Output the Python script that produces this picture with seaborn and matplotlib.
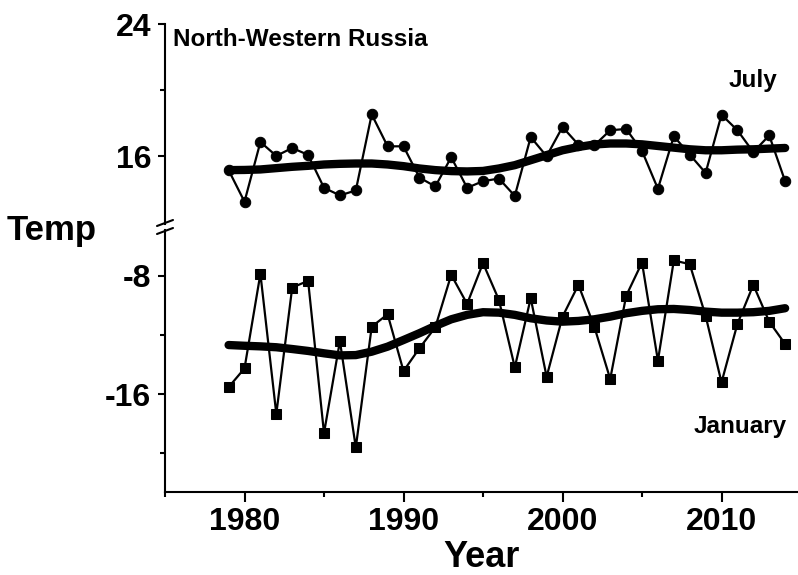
import matplotlib
matplotlib.use("Agg")
import matplotlib.pyplot as plt
from matplotlib.lines import Line2D
from matplotlib.ticker import MultipleLocator, FixedLocator
import seaborn as sns
import pandas as pd

years = list(range(1979, 2015))

july_temp = [15.16, 13.25, 16.86, 16.02, 16.50, 16.08, 14.09, 13.63, 13.93, 18.53,
             16.60, 16.60, 14.71, 14.17, 15.94, 14.09, 14.49, 14.65, 13.60, 17.16,
             16.00, 17.77, 16.70, 16.66, 17.57, 17.65, 16.32, 14.03, 17.21, 16.10,
             14.99, 18.51, 17.57, 16.25, 17.26, 14.49]

july_smooth = [15.16, 15.17, 15.20, 15.28, 15.36, 15.42, 15.50, 15.54, 15.56, 15.56,
               15.50, 15.40, 15.26, 15.16, 15.10, 15.08, 15.11, 15.26, 15.46, 15.76,
               16.06, 16.36, 16.56, 16.71, 16.77, 16.77, 16.72, 16.62, 16.52, 16.42,
               16.36, 16.36, 16.40, 16.42, 16.46, 16.50]

jan_temp = [-15.53, -14.26, -7.86, -17.34, -8.79, -8.34, -18.64, -12.41, -19.61, -11.44,
            -10.60, -14.44, -12.90, -11.48, -7.93, -9.90, -7.14, -9.63, -14.19, -9.51,
            -14.83, -10.76, -8.61, -11.44, -14.98, -9.36, -7.10, -13.74, -6.96, -7.21,
            -10.71, -15.21, -11.25, -8.61, -11.10, -12.61]

jan_smooth = [-12.68, -12.73, -12.77, -12.83, -12.95, -13.08, -13.24, -13.38, -13.36, -13.13,
              -12.79, -12.34, -11.88, -11.39, -10.94, -10.64, -10.46, -10.49, -10.64, -10.87,
              -11.02, -11.10, -11.05, -10.94, -10.76, -10.53, -10.37, -10.26, -10.24, -10.31,
              -10.42, -10.49, -10.49, -10.46, -10.37, -10.19]

x_ticks = [1980, 1990, 2000, 2010]
top_yticks = [16, 24]
top_minor = [20]
bot_yticks = [-16, -8]
bot_minor = [-20, -12]

df = pd.DataFrame({"Year": years, "July": july_temp, "JulySmooth": july_smooth,
                   "January": jan_temp, "JanSmooth": jan_smooth})

sns.set_style("ticks")
plt.rcParams["font.family"] = ["Liberation Sans", "DejaVu Sans"]
plt.rcParams["font.weight"] = "bold"
plt.rcParams["axes.unicode_minus"] = False
for key in ("text.color", "axes.labelcolor", "xtick.color", "ytick.color",
            "axes.edgecolor", "xtick.labelcolor", "ytick.labelcolor"):
    plt.rcParams[key] = "black"

W, H = 798, 575
fig = plt.figure(figsize=(W / 100, H / 100), dpi=100)
left = 165 / W
width = 1 - left
ax_top = fig.add_axes([left, 1 - 224 / H, width, (224 - 24) / H])
ax_bot = fig.add_axes([left, 1 - 491.7 / H, width, (491.7 - 230) / H])

thin = 1.6
thick = 6.0
sns.lineplot(data=df, x="Year", y="July", ax=ax_top, color="black", lw=thin,
             marker="o", markersize=7.5, markeredgecolor="black", zorder=3)
sns.lineplot(data=df, x="Year", y="JulySmooth", ax=ax_top, color="black", lw=thick,
             solid_capstyle="round", zorder=4)
sns.lineplot(data=df, x="Year", y="January", ax=ax_bot, color="black", lw=thin,
             marker="s", markersize=6.5, markeredgecolor="black", zorder=3)
sns.lineplot(data=df, x="Year", y="JanSmooth", ax=ax_bot, color="black", lw=thick,
             solid_capstyle="round", zorder=4)

for ax in (ax_top, ax_bot):
    ax.set_xlim(1975, 2014.81)
    ax.set_xlabel("")
    ax.set_ylabel("")
    for s in ("top", "right"):
        ax.spines[s].set_visible(False)
    ax.spines["left"].set_linewidth(1.5)
    ax.spines["bottom"].set_linewidth(1.5)
    ax.spines["left"].set_color("black")
    ax.spines["bottom"].set_color("black")
    ax.patch.set_alpha(0)

ax_top.set_ylim(11.9, 24)
ax_top.set_yticks(top_yticks)
ax_top.yaxis.set_minor_locator(FixedLocator(top_minor))
ax_top.spines["bottom"].set_visible(False)
ax_top.set_xticks([])
ax_top.tick_params(axis="x", which="both", bottom=False, labelbottom=False)

ax_bot.set_ylim(-22.6, -4.9)
ax_bot.set_yticks(bot_yticks)
ax_bot.yaxis.set_minor_locator(FixedLocator(bot_minor))
ax_bot.set_xticks(x_ticks)
ax_bot.xaxis.set_minor_locator(MultipleLocator(5))

for ax in (ax_top, ax_bot):
    ax.tick_params(axis="y", which="major", direction="out", length=5, width=1.5,
                   labelsize=23, pad=5, color="black", labelcolor="black")
    ax.tick_params(axis="y", which="minor", direction="out", length=3.5, width=1.5,
                   color="black")
    for lab in ax.get_yticklabels():
        lab.set_fontweight("bold")
ax_bot.tick_params(axis="x", which="major", direction="out", length=7, width=1.5,
                   labelsize=23, pad=4, color="black", labelcolor="black")
ax_bot.tick_params(axis="x", which="minor", direction="out", length=3.5, width=1.5,
                   color="black")
for lab in ax_bot.get_xticklabels():
    lab.set_fontweight("bold")

# axis break marks
xs = left
for yb in (223, 231):
    yf = 1 - yb / H
    fig.add_artist(Line2D([xs - 8 / W, xs + 8 / W], [yf - 3 / H, yf + 3 / H],
                          color="black", lw=1.5))

fig.text(173 / W, 1 - 46 / H, "North-Western Russia", fontsize=17.5,
         fontweight="bold", ha="left", va="baseline", color="black")
fig.text(777 / W, 1 - 87 / H, "July", fontsize=17.5, fontweight="bold",
         ha="right", va="baseline", color="black")
fig.text(786.5 / W, 1 - 432.7 / H, "January", fontsize=17.5, fontweight="bold",
         ha="right", va="baseline", color="black")
fig.text(7 / W, 1 - 240 / H, "Temp", fontsize=25, fontweight="bold",
         ha="left", va="baseline", color="black")
fig.text((left + 1) / 2, 1 - 567 / H, "Year", fontsize=26, fontweight="bold",
         ha="center", va="baseline", color="black")

fig.savefig("out.png", dpi=100)
